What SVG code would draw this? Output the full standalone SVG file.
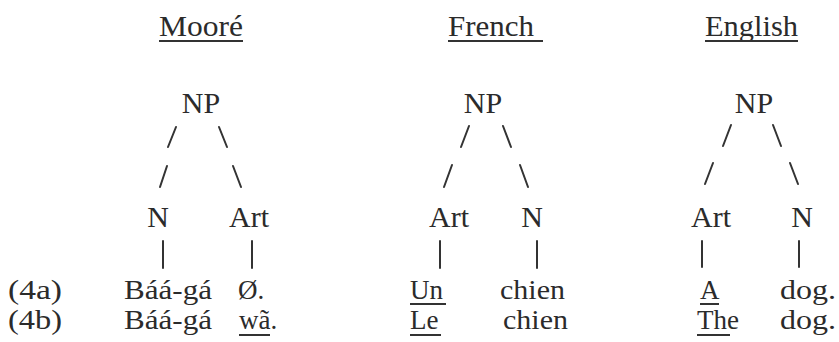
<svg xmlns="http://www.w3.org/2000/svg" width="839" height="342" viewBox="0 0 839 342">
<style>
text{font-family:"Liberation Serif","Times New Roman",serif;font-size:30px;fill:#2b2b2b}
.m{text-anchor:middle}
.r{font-size:27px}
.c line{stroke:#333;stroke-width:2;stroke-linecap:round}
.u{stroke:#333;stroke-width:2}
</style>
<rect width="839" height="342" fill="#fff"/>
<g id="connectors" class="c">
<line x1="176" y1="127" x2="168" y2="147"/>
<line x1="219" y1="127" x2="227" y2="147"/>
<line x1="167" y1="166" x2="160" y2="187"/>
<line x1="233" y1="166" x2="241" y2="187"/>
<line x1="163" y1="241" x2="163" y2="268"/>
<line x1="252" y1="241" x2="252" y2="268"/>
<line x1="469" y1="126" x2="461" y2="147"/>
<line x1="503" y1="126" x2="511" y2="147"/>
<line x1="452" y1="165" x2="444" y2="187"/>
<line x1="520" y1="165" x2="528" y2="187"/>
<line x1="440" y1="241" x2="440" y2="268"/>
<line x1="537" y1="241" x2="537" y2="268"/>
<line x1="731" y1="125" x2="723" y2="146"/>
<line x1="773" y1="125" x2="781" y2="146"/>
<line x1="713" y1="163" x2="705" y2="184"/>
<line x1="790" y1="163" x2="798" y2="184"/>
<line x1="702" y1="241" x2="702" y2="267"/>
<line x1="799" y1="241" x2="799" y2="267"/>
</g>
<g id="moore-title"><text x="159" y="36" textLength="84" lengthAdjust="spacingAndGlyphs">Mooré</text><line class="u" x1="159" y1="41" x2="243" y2="41"/></g>
<g id="moore-np"><text class="m" x="201" y="113">NP</text></g>
<g id="moore-n"><text class="m" x="158" y="227">N</text></g>
<g id="moore-art"><text class="m" x="249" y="227">Art</text></g>
<g id="label-4a"><text class="r" x="8" y="299" textLength="54" lengthAdjust="spacingAndGlyphs">(4a)</text></g>
<g id="label-4b"><text class="r" x="8" y="329" textLength="54" lengthAdjust="spacingAndGlyphs">(4b)</text></g>
<g id="moore-a"><text class="r" x="124" y="299" textLength="88" lengthAdjust="spacingAndGlyphs">Báá-gá</text><text class="r" x="238" y="299">Ø.</text></g>
<g id="moore-b"><text class="r" x="124" y="329" textLength="88" lengthAdjust="spacingAndGlyphs">Báá-gá</text><text class="r" x="239" y="329">wã.</text><line class="u" x1="239" y1="335" x2="270" y2="335"/></g>
<g id="french-title"><text x="448" y="36" textLength="86" lengthAdjust="spacingAndGlyphs">French</text><line class="u" x1="448" y1="41" x2="543" y2="41"/></g>
<g id="french-np"><text class="m" x="483" y="113">NP</text></g>
<g id="french-art"><text class="m" x="449" y="227">Art</text></g>
<g id="french-n"><text class="m" x="532" y="227">N</text></g>
<g id="french-a"><text class="r" x="410" y="299">Un</text><line class="u" x1="410" y1="304" x2="446" y2="304"/><text class="r" x="500" y="299" textLength="65" lengthAdjust="spacingAndGlyphs">chien</text></g>
<g id="french-b"><text class="r" x="410" y="329">Le</text><line class="u" x1="410" y1="335" x2="441" y2="335"/><text class="r" x="503" y="329" textLength="65" lengthAdjust="spacingAndGlyphs">chien</text></g>
<g id="english-title"><text x="705" y="36" textLength="93" lengthAdjust="spacingAndGlyphs">English</text><line class="u" x1="705" y1="41" x2="798" y2="41"/></g>
<g id="english-np"><text class="m" x="754" y="113">NP</text></g>
<g id="english-art"><text class="m" x="711" y="227">Art</text></g>
<g id="english-n"><text class="m" x="802" y="227">N</text></g>
<g id="english-a"><text class="r" x="700" y="299">A</text><line class="u" x1="700" y1="304" x2="719" y2="304"/><text class="r" x="780" y="299" textLength="56" lengthAdjust="spacingAndGlyphs">dog.</text></g>
<g id="english-b"><text class="r" x="697" y="329">The</text><line class="u" x1="697" y1="335" x2="730" y2="335"/><text class="r" x="780" y="329" textLength="56" lengthAdjust="spacingAndGlyphs">dog.</text></g>
</svg>
